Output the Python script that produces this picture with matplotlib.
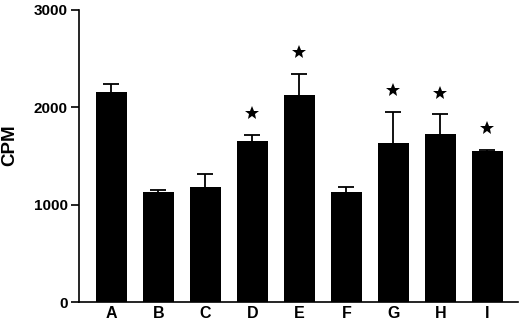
import matplotlib
matplotlib.use('Agg')
import matplotlib.pyplot as plt

groups = ['A', 'B', 'C', 'D', 'E', 'F', 'G', 'H', 'I']
cpm = [2158, 1135, 1179, 1655, 2131, 1134, 1637, 1727, 1552]
sem = [80, 18, 135, 58, 212, 50, 316, 200, 14]
signif = [False, False, False, True, True, False, True, True, True]

plt.rcParams['font.family'] = ['Liberation Sans', 'DejaVu Sans']
plt.rcParams['font.weight'] = 'bold'

fig = plt.figure(figsize=(5.2, 3.21), dpi=100)
ax = fig.add_axes([0.152, 0.059, 0.844, 0.910])

xs = list(range(len(groups)))
ax.bar(xs, cpm, width=0.66, color='black', zorder=2)
eb = ax.errorbar(xs, cpm, yerr=[[0] * len(sem), sem], fmt='none', ecolor='black',
                 elinewidth=1.3, capsize=5.5, capthick=1.3, zorder=1)
# only the upper cap is wanted
eb[1][0].set_visible(False)

# stars above the significant groups
for i in range(len(groups)):
	if signif[i]:
		ax.plot(i, cpm[i] + sem[i] + 225, marker='*', color='black',
		        markersize=10, markeredgewidth=0, linestyle='none')

ax.set_xlim(-0.69, 8.65)
ax.set_ylim(0, 3000)
ax.set_yticks([0, 1000, 2000, 3000])
ax.set_xticks(xs)
ax.set_xticklabels(groups, fontsize=11.5, fontweight='bold')
ax.tick_params(axis='x', length=0, pad=3)
ax.tick_params(axis='y', length=6, width=1.2, labelsize=11, pad=2)
for lab in ax.get_yticklabels():
	lab.set_fontweight('bold')
ax.set_ylabel('CPM', fontsize=13.5, fontweight='bold')
ax.yaxis.set_label_coords(-0.138, 0.538)

ax.spines['top'].set_visible(False)
ax.spines['right'].set_visible(False)
ax.spines['left'].set_linewidth(1.2)
ax.spines['bottom'].set_linewidth(1.2)

fig.savefig('out.png', dpi=100)
